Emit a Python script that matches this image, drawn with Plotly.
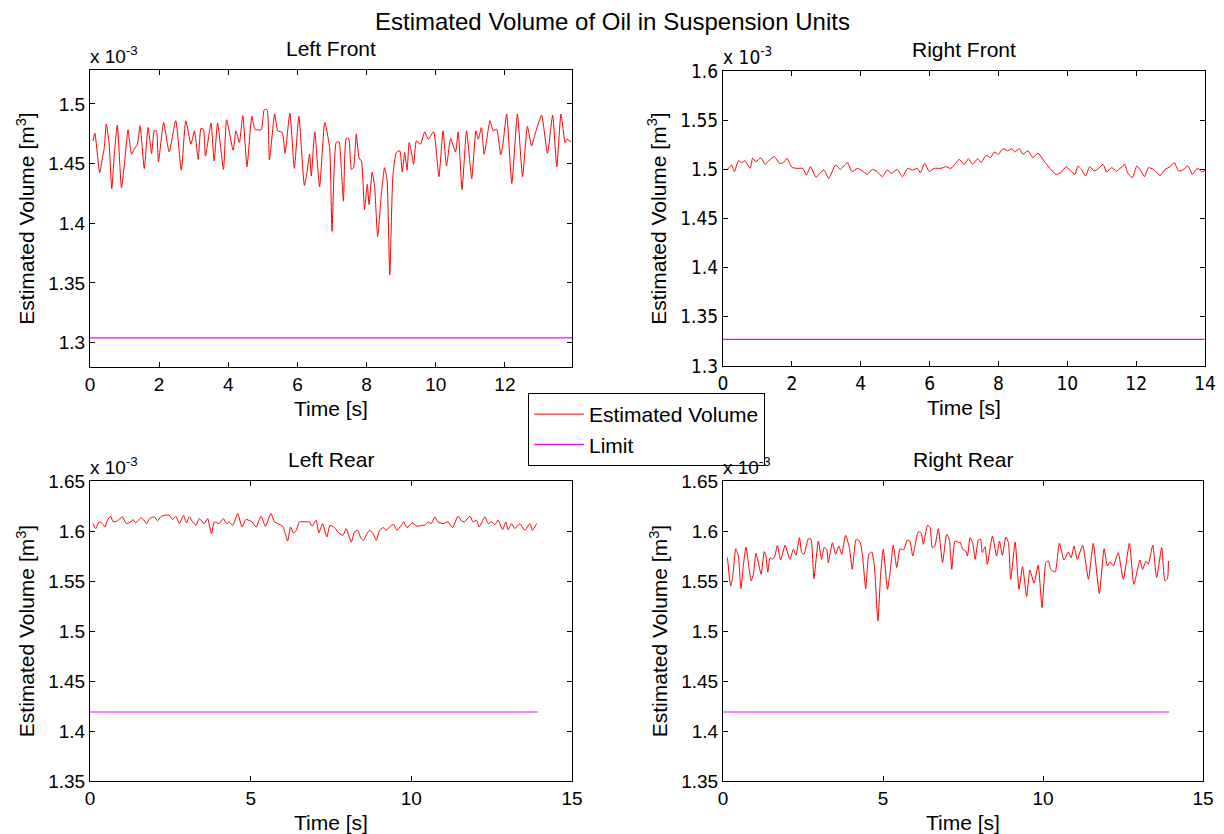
import plotly.graph_objects as go

# ---------------- data (volume in units of 1e-3 m^3, time in s) ----------------
lf_time = [0.09,0.14,0.28,0.36,0.41,0.47,0.55,0.63,0.70,0.79,0.91,0.99,1.10,1.20,1.28,1.37,1.45,1.57,1.68,1.78,
           1.86,1.92,1.98,2.13,2.29,2.48,2.64,2.77,2.92,3.02,3.13,3.21,3.28,3.34,3.50,3.59,3.69,3.86,3.95,4.14,
           4.22,4.32,4.42,4.54,4.68,4.77,4.95,5.04,5.12,5.19,5.34,5.43,5.56,5.64,5.78,5.91,6.04,6.20,6.27,6.35,
           6.40,6.50,6.64,6.79,6.93,
           7.00,7.12,7.20,7.27,7.33,7.41,7.48,7.56,7.62,7.70,7.78,7.85,7.94,8.02,8.07,8.16,8.23,8.32,8.43,8.52,
           8.59,8.67,8.76,8.86,8.96,9.03,9.10,9.17,9.23,9.29,9.36,9.44,9.56,9.68,9.78,9.94,10.09,10.21,10.31,10.43,
           10.57,10.65,10.76,10.89,11.04,11.16,11.23,11.32,11.40,11.57,11.66,11.76,11.88,11.95,12.05,12.20,12.36,12.51,12.65,12.77,
           12.90,13.06,13.23,13.38,13.50,13.62,13.74,13.79,13.92]
lf_volume = [1.4691,1.4756,1.4424,1.4550,1.4626,1.4831,1.4677,1.4289,1.4564,1.4823,1.4298,1.4480,1.4784,1.4579,1.4621,1.4663,1.4817,1.4458,1.4803,1.4584,
             1.4775,1.4775,1.4514,1.4845,1.4598,1.4860,1.4446,1.4860,1.4663,1.4775,1.4536,1.4795,1.4789,1.4564,1.4840,1.4522,1.4840,1.4452,1.4868,1.4612,
             1.4775,1.4677,1.4902,1.4475,1.4896,1.4789,1.4784,1.4952,1.4952,1.4531,1.4916,1.4775,1.4761,1.4587,1.4924,1.4460,1.4896,1.4317,1.4418,1.4579,
             1.4396,1.4767,1.4306,1.4845,1.4635,
             1.3932,1.4677,1.4685,1.4452,1.4185,1.4711,1.4711,1.4452,1.4466,1.4747,1.4550,1.4522,1.4115,1.4326,1.4157,1.4430,1.4312,1.3890,1.4255,1.4466,
             1.4368,1.3567,1.4396,1.4593,1.4607,1.4430,1.4593,1.4446,1.4677,1.4607,1.4494,1.4691,1.4663,1.4767,1.4705,1.4767,1.4390,1.4775,1.4480,1.4711,
             1.4598,1.4767,1.4283,1.4775,1.4373,1.4775,1.4705,1.4803,1.4579,1.4860,1.4775,1.4789,1.4573,1.4682,1.4916,1.4334,1.4916,1.4390,1.4812,1.4649,
             1.4775,1.4907,1.4587,1.4907,1.4475,1.4916,1.4677,1.4705,1.4680]

rf_time = [0.13,0.20,0.25,0.33,0.45,0.54,0.64,0.69,0.79,0.86,0.96,1.10,1.22,1.35,1.49,1.64,1.76,1.86,2.00,2.15,
           2.32,2.42,2.54,2.70,2.81,2.93,3.07,3.27,3.41,3.61,3.75,3.90,4.04,4.19,4.34,4.48,4.63,4.77,4.89,5.06,
           5.21,5.36,5.50,5.65,5.73,5.86,5.99,6.13,6.33,6.47,6.62,6.77,6.86,
           7.01,7.13,7.25,7.40,7.50,7.64,7.77,7.88,8.00,8.13,8.27,8.39,8.47,8.61,8.71,8.86,9.00,9.15,9.29,9.44,
           9.56,9.68,9.81,9.97,10.10,10.22,10.31,10.41,10.53,10.65,10.78,10.90,11.04,11.14,11.29,11.43,11.56,11.67,11.75,11.89,
           12.02,12.14,12.24,12.36,12.50,12.70,12.84,12.99,13.11,13.23,13.38,13.50,13.64,13.74,13.81,13.91,14.00]
rf_volume = [1.5000,1.5027,1.5044,1.4976,1.5089,1.5068,1.5089,1.5061,1.5010,1.5113,1.5078,1.5119,1.5051,1.5095,1.5130,1.5061,1.5068,1.5113,1.5020,1.5010,
             1.5010,1.4942,1.5027,1.4918,1.4959,1.4993,1.4908,1.5044,1.5000,1.5068,1.4976,1.5010,1.4986,1.4949,1.5000,1.4976,1.4925,1.4993,1.4959,1.5000,
             1.4925,1.5010,1.4993,1.5010,1.4966,1.5061,1.4976,1.5010,1.5010,1.5027,1.5010,1.5068,1.5102,
             1.5051,1.5109,1.5051,1.5109,1.5068,1.5143,1.5119,1.5177,1.5153,1.5211,1.5188,1.5211,1.5177,1.5211,1.5153,1.5188,1.5119,1.5164,1.5102,1.5034,
             1.4983,1.4949,1.4966,1.5027,1.4983,1.4949,1.5034,1.5000,1.4932,1.5027,1.4983,1.5007,1.5051,1.4973,1.5017,1.4983,1.5017,1.5051,1.4966,1.4915,
             1.5034,1.4983,1.4925,1.5017,1.5000,1.4939,1.5000,1.5027,1.5068,1.4983,1.5000,1.5034,1.4949,1.5000,1.5007,1.4973,1.4990]

lr_time = [0.09,0.18,0.28,0.38,0.47,0.54,0.64,0.72,0.85,1.01,1.13,1.27,1.34,1.42,1.58,1.68,1.76,1.86,2.00,2.10,
           2.20,2.34,2.46,2.57,2.67,2.78,2.91,3.00,3.09,3.19,3.30,3.40,3.55,3.66,3.78,3.87,4.02,4.15,4.25,4.33,
           4.44,4.60,4.73,4.85,5.04,5.17,5.32,5.46,5.63,5.74,5.84,6.00,6.15,6.24,6.33,6.41,6.52,6.67,6.83,6.91,
           7.04,7.12,7.24,7.37,7.47,7.61,7.71,7.87,7.97,8.13,8.23,8.34,8.41,8.51,8.62,8.70,8.80,8.91,9.01,9.12,
           9.22,9.32,9.45,9.55,9.69,9.76,9.86,10.03,10.18,10.31,10.41,10.52,10.62,10.73,10.83,10.99,11.14,11.28,11.45,11.56,
           11.66,11.82,11.92,12.03,12.11,12.29,12.39,12.49,12.60,12.70,12.84,12.94,13.01,13.12,13.22,13.38,13.53,13.69,13.77,13.90]
lr_volume = [1.6074,1.6024,1.6091,1.6074,1.6040,1.6108,1.6148,1.6091,1.6101,1.6142,1.6074,1.6091,1.6115,1.6081,1.6131,1.6108,1.6074,1.6125,1.6142,1.6101,
             1.6142,1.6158,1.6158,1.6115,1.6148,1.6074,1.6158,1.6081,1.6142,1.6091,1.6057,1.6125,1.6074,1.6125,1.5973,1.6091,1.6074,1.6125,1.6074,1.6091,
             1.6057,1.6175,1.6040,1.6115,1.6091,1.6040,1.6148,1.6047,1.6175,1.6091,1.6074,1.6047,1.5899,1.6040,1.5980,1.6000,1.6091,1.6091,1.6091,1.6047,
             1.6108,1.5980,1.6074,1.5939,1.6057,1.6034,1.5990,1.5956,1.6024,1.5889,1.5990,1.6007,1.5939,1.5906,1.5973,1.6007,1.5980,1.5906,1.6007,1.6034,
             1.6007,1.6040,1.6067,1.6007,1.6057,1.6091,1.6034,1.6081,1.6047,1.6057,1.6057,1.6091,1.6074,1.6142,1.6091,1.6074,1.6091,1.6034,1.6148,1.6101,
             1.6091,1.6148,1.6091,1.6108,1.6040,1.6142,1.6074,1.6091,1.6064,1.6108,1.6013,1.6091,1.6013,1.6074,1.6024,1.6074,1.6007,1.6074,1.6007,1.6074]

rr_time = [0.14,0.24,0.30,0.40,0.48,0.56,0.64,0.72,0.79,0.88,0.95,1.03,1.10,1.19,1.29,1.34,1.40,1.47,1.55,1.62,
           1.70,1.80,1.94,2.09,2.20,2.28,2.39,2.46,2.53,2.67,2.75,2.84,2.98,3.08,3.16,3.24,3.29,3.42,3.52,3.62,
           3.71,3.83,3.95,4.04,4.16,4.28,4.36,4.46,4.56,4.65,4.73,4.84,4.93,5.01,5.14,5.22,5.32,5.43,5.53,5.64,
           5.76,5.84,5.93,6.10,6.19,6.26,6.39,6.47,6.54,6.62,6.73,6.86,6.99,7.07,7.15,7.25,7.39,
           7.41,7.49,7.59,7.64,7.72,7.80,7.88,7.98,8.05,8.10,8.19,8.26,8.42,8.55,8.64,8.73,8.84,8.92,8.99,9.13,
           9.25,9.36,9.49,9.59,9.72,9.85,9.97,10.09,10.17,10.24,10.38,10.51,10.66,10.79,10.88,10.97,11.07,11.24,11.42,11.57,
           11.76,11.91,12.01,12.09,12.20,12.35,12.51,12.70,12.84,13.03,13.11,13.22,13.29,13.43,13.55,13.71,13.81,13.89,13.92]
rr_volume = [1.5733,1.5450,1.5534,1.5823,1.5750,1.5424,1.5667,1.5840,1.5684,1.5500,1.5567,1.5777,1.5690,1.5567,1.5794,1.5750,1.5590,1.5733,1.5717,1.5750,
             1.5857,1.5710,1.5857,1.5717,1.5817,1.5757,1.5933,1.5784,1.5767,1.5923,1.5917,1.5524,1.5900,1.5717,1.5833,1.5817,1.5684,1.5883,1.5767,1.5850,
             1.5767,1.5957,1.5833,1.5617,1.5917,1.5890,1.5750,1.5424,1.5767,1.5790,1.5650,1.5101,1.5584,1.5817,1.5417,1.5584,1.5857,1.5634,1.5823,1.5810,
             1.5910,1.5900,1.5750,1.5990,1.5983,1.5867,1.6057,1.6033,1.5833,1.5850,1.6023,1.5684,1.5967,1.5917,1.5617,1.5900,1.5883,
             1.5890,1.5817,1.5800,1.5750,1.5933,1.5883,1.5717,1.5910,1.5917,1.5784,1.5843,1.5667,1.5950,1.5750,1.5900,1.5757,1.5940,1.5883,1.5517,1.5890,
             1.5417,1.5643,1.5344,1.5610,1.5477,1.5657,1.5234,1.5684,1.5700,1.5617,1.5590,1.5877,1.5710,1.5790,1.5733,1.5850,1.5717,1.5857,1.5517,1.5877,
             1.5377,1.5823,1.5650,1.5690,1.5650,1.5784,1.5517,1.5877,1.5467,1.5710,1.5617,1.5700,1.5667,1.5857,1.5534,1.5833,1.5500,1.5524,1.5700]

limits = {"lf": 1.304, "rf": 1.327, "lr": 1.419, "rr": 1.419}
limit_time_lf = [0.0, 13.94]
limit_time_rf = [0.0, 13.99]
limit_time_rear = [0.0, 13.94]

titles = ["Left Front", "Right Front", "Left Rear", "Right Rear"]
main_title = "Estimated Volume of Oil in Suspension Units"

yticks_lf = [1.3, 1.35, 1.4, 1.45, 1.5]
yticks_rf = [1.3, 1.35, 1.4, 1.45, 1.5, 1.55, 1.6]
yticks_rear = [1.35, 1.4, 1.45, 1.5, 1.55, 1.6, 1.65]
xticks_lf = [0, 2, 4, 6, 8, 10, 12]
xticks_rf = [0, 2, 4, 6, 8, 10, 12, 14]
xticks_rear = [0, 5, 10, 15]

# ---------------- figure ----------------
W, H = 1224, 834
FONT = "Liberation Sans, Arial, sans-serif"
NARROW = "DejaVu Sans Condensed, Liberation Sans Narrow, Arial Narrow, Liberation Sans, sans-serif"
RED = "#ff0000"
MAG = "#ff00ff"
TICK = 19
LAB = 21

# panel rectangles in pixels: (left, right, top, bottom)
panels = {
    "lf": (90, 572, 70, 367),
    "rf": (723, 1205, 71, 366),
    "lr": (90, 572, 481, 781),
    "rr": (723, 1203, 481, 781),
}

def dom(p):
    l, r, t, b = p
    return [l / W, r / W], [1 - b / H, 1 - t / H]

fig = go.Figure()

series = [
    ("lf", "x", "y", lf_time, lf_volume, limit_time_lf),
    ("rf", "x2", "y2", rf_time, rf_volume, limit_time_rf),
    ("lr", "x3", "y3", lr_time, lr_volume, limit_time_rear),
    ("rr", "x4", "y4", rr_time, rr_volume, limit_time_rear),
]
for i, (key, xa, ya, t, v, lt) in enumerate(series):
    fig.add_trace(go.Scatter(x=t, y=v, mode="lines",
                             line=dict(color=RED, width=1, shape="spline", smoothing=0.5),
                             name="Estimated Volume", showlegend=(i == 0), xaxis=xa, yaxis=ya,
                             legendrank=1))
    fig.add_trace(go.Scatter(x=lt, y=[limits[key]] * len(lt), mode="lines",
                             line=dict(color=MAG, width=1.2), name="Limit", cliponaxis=False,
                             showlegend=(i == 0), xaxis=xa, yaxis=ya, legendrank=2))

def fmt(v):
    return ("%g" % v)

axis_common = dict(showline=True, linecolor="black", linewidth=1, mirror="ticks",
                   ticks="inside", ticklen=5, tickcolor="black", showgrid=False,
                   zeroline=False, tickmode="array", automargin=False)

cfg = {
    "lf": dict(xr=[0, 13.94], yr=[1.2795, 1.5285], xt=xticks_lf, yt=yticks_lf, font=FONT),
    "rf": dict(xr=[0, 14.0], yr=[1.3, 1.6], xt=xticks_rf, yt=yticks_rf, font=NARROW),
    "lr": dict(xr=[0, 15], yr=[1.35, 1.65], xt=xticks_rear, yt=yticks_rear, font=FONT),
    "rr": dict(xr=[0, 15], yr=[1.35, 1.65], xt=xticks_rear, yt=yticks_rear, font=FONT),
}
names = [("lf", "xaxis", "yaxis", "y", "x"), ("rf", "xaxis2", "yaxis2", "y2", "x2"),
         ("lr", "xaxis3", "yaxis3", "y3", "x3"), ("rr", "xaxis4", "yaxis4", "y4", "x4")]

layout = {}
for key, xn, yn, yref, xref in names:
    xd, yd = dom(panels[key])
    c = cfg[key]
    layout[xn] = dict(axis_common, domain=xd, range=c["xr"], anchor=yref,
                      tickvals=c["xt"], ticktext=[fmt(v) for v in c["xt"]],
                      tickfont=dict(family=c["font"], size=TICK, color="black"),
                      ticklabelstandoff=0,
                      title=dict(text="Time [s]", font=dict(family=FONT, size=LAB, color="black"), standoff=7))
    layout[yn] = dict(axis_common, domain=yd, range=c["yr"], anchor=xref,
                      tickvals=c["yt"], ticktext=[fmt(v) for v in c["yt"]],
                      tickfont=dict(family=c["font"], size=TICK, color="black"),
                      title=dict(text="Estimated Volume [m<sup>3</sup>]",
                                 font=dict(family=FONT, size=LAB, color="black"), standoff=7))

annotations = []
for (key, *_), ttl in zip(names, titles):
    l, r, t, b = panels[key]
    annotations.append(dict(text=ttl, x=(l + r) / 2 / W, y=1 - (t - 8) / H, xref="paper", yref="paper",
                            xanchor="center", yanchor="bottom", showarrow=False,
                            font=dict(family=FONT, size=LAB, color="black")))
    annotations.append(dict(text="x 10<sup>-3</sup>", x=(l - 2) / W, y=1 - (t - 1) / H, xref="paper", yref="paper",
                            xanchor="left", yanchor="bottom", showarrow=False,
                            font=dict(family=cfg[key]["font"], size=TICK, color="black")))
annotations.append(dict(text=main_title, x=0.5, y=1 - 6 / H, xref="paper", yref="paper",
                        xanchor="center", yanchor="top", showarrow=False,
                        font=dict(family=FONT, size=24, color="black")))

fig.update_layout(
    width=W, height=H, margin=dict(l=0, r=0, t=0, b=0),
    paper_bgcolor="white", plot_bgcolor="white",
    font=dict(family=FONT, size=TICK, color="black"),
    annotations=annotations,
    legend=dict(x=528 / W, y=1 - 393 / H, xanchor="left", yanchor="top",
                bordercolor="black", borderwidth=1, bgcolor="white",
                font=dict(family=FONT, size=LAB, color="black"),
                tracegroupgap=0, itemwidth=50),
    **layout,
)

fig.write_html("out.html", config={"displayModeBar": False},
               post_script="document.body.style.margin='0px';document.body.style.overflow='hidden';")
